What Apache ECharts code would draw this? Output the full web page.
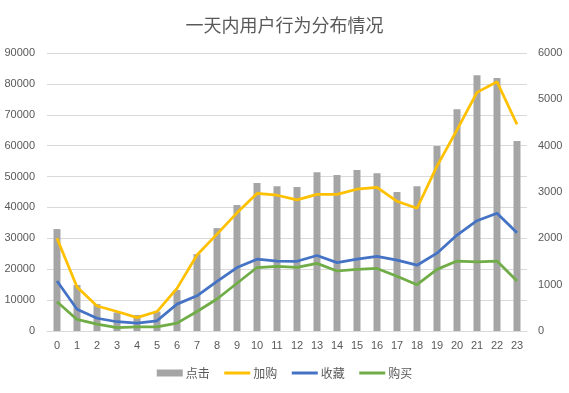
<!DOCTYPE html>
<html><head><meta charset="utf-8">
<script src="https://cdn.jsdelivr.net/npm/echarts@6/dist/echarts.min.js"></script>
<style>html,body{margin:0;padding:0;background:#fff}#c{width:569px;height:393px}</style>
</head><body><div id="c"></div>
<script>
const hours = ['0','1','2','3','4','5','6','7','8','9','10','11','12','13','14','15','16','17','18','19','20','21','22','23'];
const clicks = [33000,14900,8700,6000,5200,6300,13300,24900,33300,40800,47900,46900,46600,51400,50500,52100,51100,45000,46900,59900,71800,82800,81900,61500];
const cart = [2000,950,540,420,290,420,920,1640,2090,2550,2970,2930,2830,2950,2950,3060,3100,2800,2650,3560,4340,5150,5380,4460];
const fav = [1080,470,275,200,170,220,580,760,1070,1370,1550,1510,1505,1630,1475,1550,1610,1530,1420,1680,2070,2380,2540,2120];
const buy = [630,250,150,75,90,90,170,420,690,1030,1370,1395,1375,1460,1295,1330,1350,1180,1000,1330,1510,1490,1510,1080];
const leftTicks = {min:0, max:90000, interval:10000};
const rightTicks = {min:0, max:6000, interval:1000};

const txt = '#595959';
const numFont = 'Liberation Sans';
const cjk = 'Noto Sans CJK SC';
const chart = echarts.init(document.getElementById('c'), null, {renderer:'canvas'});
const plain = v => String(v);
const hideSym = {opacity:0};
chart.setOption({
  animation:false,
  title:{text:'一天内用户行为分布情况', left:'center', top:11,
    textStyle:{fontSize:18, fontWeight:'normal', color:txt, fontFamily:cjk}},
  legend:{bottom:9, left:'center', itemGap:13, itemWidth:26, itemHeight:7,
    textStyle:{fontSize:12, color:txt, fontFamily:cjk, padding:[0,0,0,-2]},
    data:[
      {name:'点击', icon:'rect'},
      {name:'加购', itemStyle:hideSym, lineStyle:{width:3}},
      {name:'收藏', itemStyle:hideSym, lineStyle:{width:3}},
      {name:'购买', itemStyle:hideSym, lineStyle:{width:3}}
    ]},
  grid:{left:47, right:42, top:53, bottom:62, containLabel:false},
  xAxis:{type:'category', data:hours, boundaryGap:true,
    axisLine:{lineStyle:{color:'#D9D9D9'}}, axisTick:{show:false},
    axisLabel:{interval:0, color:txt, fontSize:11, fontFamily:numFont, margin:9}},
  yAxis:[
    {type:'value', min:leftTicks.min, max:leftTicks.max, interval:leftTicks.interval,
      axisLine:{show:false}, axisTick:{show:false},
      axisLabel:{color:txt, fontSize:11, fontFamily:numFont, margin:12, formatter:plain},
      splitLine:{lineStyle:{color:'#D9D9D9', width:1}}},
    {type:'value', min:rightTicks.min, max:rightTicks.max, interval:rightTicks.interval,
      axisLine:{show:false}, axisTick:{show:false},
      axisLabel:{color:txt, fontSize:11, fontFamily:numFont, margin:11, formatter:plain},
      splitLine:{show:false}}
  ],
  series:[
    {name:'点击', type:'bar', data:clicks, yAxisIndex:0, barWidth:7,
      itemStyle:{color:'#A5A5A5'}},
    {name:'加购', type:'line', data:cart, yAxisIndex:1, symbol:'none',
      lineStyle:{color:'#FFC000', width:2.75}, itemStyle:{color:'#FFC000'}},
    {name:'收藏', type:'line', data:fav, yAxisIndex:1, symbol:'none',
      lineStyle:{color:'#4472C4', width:2.75}, itemStyle:{color:'#4472C4'}},
    {name:'购买', type:'line', data:buy, yAxisIndex:1, symbol:'none',
      lineStyle:{color:'#70AD47', width:2.75}, itemStyle:{color:'#70AD47'}}
  ]
});
</script></body></html>
